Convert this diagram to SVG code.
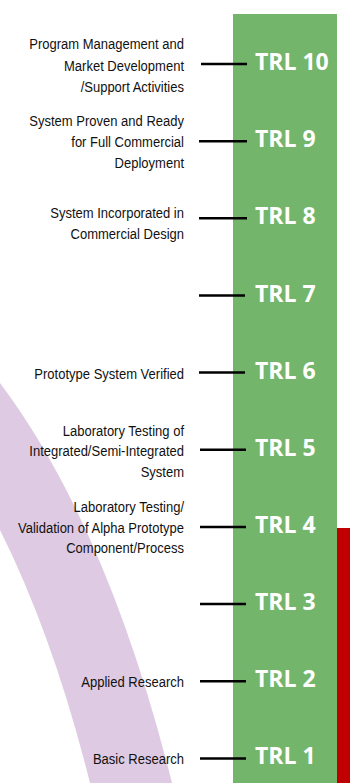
<svg xmlns="http://www.w3.org/2000/svg" width="350" height="783" viewBox="0 0 350 783">
<style>
.desc{font-family:"Liberation Sans",Arial,sans-serif;font-size:15.5px;fill:#111111;text-anchor:end}
.trl{font-family:"Open Sans","DejaVu Sans",sans-serif;font-weight:bold;font-size:23px;fill:#ffffff}
.conn line{stroke:#000;stroke-width:2.5}
</style>
<rect width="350" height="783" fill="#ffffff"/>
<path id="band" d="M0,383 Q107.6,526.5 172,783 L90,783 Q53.5,637 0,530 Z" fill="#DECAE2"/>
<rect id="green-bar" x="233" y="14" width="104" height="769" fill="#74B56C"/>
<rect id="red-bar" x="337" y="528" width="13" height="255" fill="#C00000"/>
<g id="connectors" class="conn">
<line x1="201" y1="64" x2="247" y2="64"/>
<line x1="199" y1="141.2" x2="247" y2="141.2"/>
<line x1="199" y1="218.3" x2="247" y2="218.3"/>
<line x1="199" y1="295.5" x2="245" y2="295.5"/>
<line x1="199" y1="372.6" x2="245" y2="372.6"/>
<line x1="200" y1="449.8" x2="246" y2="449.8"/>
<line x1="200" y1="526.9" x2="246" y2="526.9"/>
<line x1="200" y1="604" x2="246" y2="604"/>
<line x1="200" y1="681.2" x2="246" y2="681.2"/>
<line x1="200" y1="758.4" x2="246" y2="758.4"/>
</g>
<g id="trl10"><text class="trl" x="255" y="70">TRL 10</text></g>
<g id="trl9"><text class="trl" x="255" y="147.2">TRL 9</text></g>
<g id="trl8"><text class="trl" x="255" y="224.3">TRL 8</text></g>
<g id="trl7"><text class="trl" x="255" y="301.5">TRL 7</text></g>
<g id="trl6"><text class="trl" x="255" y="378.6">TRL 6</text></g>
<g id="trl5"><text class="trl" x="255" y="455.8">TRL 5</text></g>
<g id="trl4"><text class="trl" x="255" y="532.9">TRL 4</text></g>
<g id="trl3"><text class="trl" x="255" y="610">TRL 3</text></g>
<g id="trl2"><text class="trl" x="255" y="687.2">TRL 2</text></g>
<g id="trl1"><text class="trl" x="255" y="764.4">TRL 1</text></g>
<g id="labels" transform="translate(184 0) scale(0.84 1)">
<g id="label10">
<text class="desc" x="0" y="49.5">Program Management and</text>
<text class="desc" x="0" y="70.8">Market Development</text>
<text class="desc" x="0" y="92">/Support Activities</text>
</g>
<g id="label9">
<text class="desc" x="0" y="126">System Proven and Ready</text>
<text class="desc" x="0" y="147">for Full Commercial</text>
<text class="desc" x="0" y="168">Deployment</text>
</g>
<g id="label8">
<text class="desc" x="0" y="218.5">System Incorporated in</text>
<text class="desc" x="0" y="239">Commercial Design</text>
</g>
<g id="label6">
<text class="desc" x="0" y="379">Prototype System Verified</text>
</g>
<g id="label5">
<text class="desc" x="0" y="436">Laboratory Testing of</text>
<text class="desc" x="0" y="456.5">Integrated/Semi-Integrated</text>
<text class="desc" x="0" y="477">System</text>
</g>
<g id="label4">
<text class="desc" x="0" y="512">Laboratory Testing/</text>
<text class="desc" x="0" y="532.7">Validation of Alpha Prototype</text>
<text class="desc" x="0" y="553.4">Component/Process</text>
</g>
<g id="label2">
<text class="desc" x="0" y="687">Applied Research</text>
</g>
<g id="label1">
<text class="desc" x="0" y="764.5">Basic Research</text>
</g>
</g>
</svg>
